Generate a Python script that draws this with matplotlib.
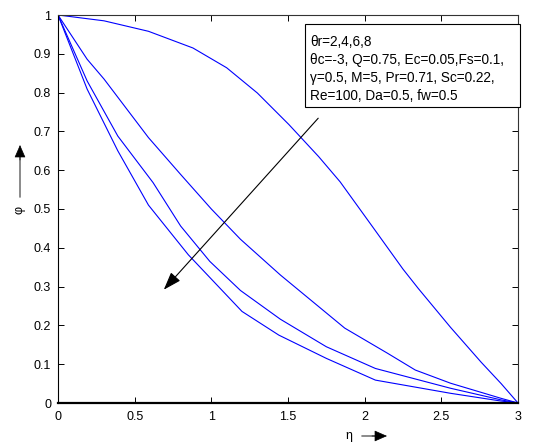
import matplotlib
matplotlib.use("Agg")
import matplotlib.pyplot as plt
from matplotlib.patches import Rectangle, FancyArrowPatch

plt.rcParams['font.family'] = ['Liberation Sans', 'DejaVu Sans']

# ---- data ----
eta_r2 = [0, 0.30, 0.59, 0.88, 1.10, 1.30, 1.505, 1.70, 1.84, 2.05, 2.25, 2.35, 2.56, 2.76, 2.89, 3.0]
phi_r2 = [1, 0.985, 0.958, 0.915, 0.864, 0.799, 0.718, 0.635, 0.570, 0.455, 0.345, 0.295, 0.195, 0.105, 0.050, 0.0]

eta_r4 = [0, 0.19, 0.30, 0.59, 0.80, 1.00, 1.19, 1.45, 1.87, 2.15, 2.33, 2.56, 2.89, 3.0]
phi_r4 = [1, 0.886, 0.835, 0.684, 0.589, 0.500, 0.422, 0.330, 0.193, 0.128, 0.085, 0.051, 0.012, 0.0]

eta_r6 = [0, 0.19, 0.39, 0.62, 0.80, 0.99, 1.19, 1.45, 1.75, 2.07, 2.56, 2.89, 3.0]
phi_r6 = [1, 0.830, 0.688, 0.568, 0.456, 0.365, 0.290, 0.216, 0.145, 0.089, 0.038, 0.008, 0.0]

eta_r8 = [0, 0.19, 0.39, 0.59, 0.85, 1.20, 1.44, 1.75, 2.07, 2.56, 2.89, 3.0]
phi_r8 = [1, 0.809, 0.650, 0.510, 0.382, 0.236, 0.175, 0.115, 0.059, 0.025, 0.005, 0.0]

x_ticks = [0, 0.5, 1, 1.5, 2, 2.5, 3]
x_tick_labels = ['0', '0.5', '1', '1.5', '2', '2.5', '3']
y_ticks = [0, 0.1, 0.2, 0.3, 0.4, 0.5, 0.6, 0.7, 0.8, 0.9, 1]
y_tick_labels = ['0', '0.1', '0.2', '0.3', '0.4', '0.5', '0.6', '0.7', '0.8', '0.9', '1']

legend_lines = [
    "θr=2,4,6,8",
    "θc=-3, Q=0.75, Ec=0.05,Fs=0.1,",
    "γ=0.5, M=5, Pr=0.71, Sc=0.22,",
    "Re=100, Da=0.5, fw=0.5",
]

W, H = 557, 447
fig = plt.figure(figsize=(W / 100, H / 100), dpi=100)
fig.patch.set_facecolor('white')

def fx(px):
    return px / W

def fy(py):
    return 1 - py / H

ax = fig.add_axes([fx(58), fy(403), fx(518) - fx(58), fy(15) - fy(403)])

for e, p in [(eta_r2, phi_r2), (eta_r4, phi_r4), (eta_r6, phi_r6), (eta_r8, phi_r8)]:
    ax.plot(e, p, color='#0000ff', lw=0.8)

ax.set_xlim(0, 3)
ax.set_ylim(0, 1)
ax.set_xticks(x_ticks)
ax.set_xticklabels(x_tick_labels)
ax.set_yticks(y_ticks)
ax.set_yticklabels(y_tick_labels)
ax.tick_params(direction='in', top=True, right=True, length=4, width=0.7,
               labelsize=9, colors='black')
ax.tick_params(axis='x', pad=6)
ax.tick_params(axis='y', pad=5)
for s in ['top', 'right', 'left']:
    ax.spines[s].set_linewidth(0.8)
ax.spines['bottom'].set_linewidth(1.6)
ax.spines['top'].set_color('#333333')
ax.spines['right'].set_color('#333333')

# main arrow across the curves
ax.annotate('', xy=(0.69, 0.292), xytext=(1.697, 0.734),
            arrowprops=dict(arrowstyle='-|>,head_length=1.1,head_width=0.38',
                            color='black', lw=0.8, shrinkA=0, shrinkB=0))

# parameter box
fig.patches.append(Rectangle((fx(305), fy(107)), fx(520) - fx(305), fy(24) - fy(107),
                             transform=fig.transFigure, facecolor='white',
                             edgecolor='black', lw=0.8, zorder=5))
for i, t in enumerate(legend_lines):
    fig.text(fx(310), fy(41.5 + 18.3 * i), t, fontsize=9.8, va='center', ha='left',
             zorder=6)

# y label with arrow
fig.text(fx(20), fy(210), 'φ', rotation=90, fontsize=9, ha='center', va='center')
fig.patches.append(FancyArrowPatch(
    (fx(20), fy(197)), (fx(20), fy(156)), transform=fig.transFigure,
    arrowstyle='-', color='#777777', lw=1.2, shrinkA=0, shrinkB=0))
fig.patches.append(FancyArrowPatch(
    (fx(20), fy(160)), (fx(20), fy(145)), transform=fig.transFigure,
    arrowstyle='-|>,head_length=8,head_width=3.5', color='black', lw=0.5,
    shrinkA=0, shrinkB=0))

# x label with arrow
fig.text(fx(349), fy(436), 'η', fontsize=9, ha='center', va='center')
fig.patches.append(FancyArrowPatch(
    (fx(362), fy(436)), (fx(376), fy(436)), transform=fig.transFigure,
    arrowstyle='-', color='#777777', lw=1.2, shrinkA=0, shrinkB=0))
fig.patches.append(FancyArrowPatch(
    (fx(372), fy(436)), (fx(387), fy(436)), transform=fig.transFigure,
    arrowstyle='-|>,head_length=8,head_width=3.5', color='black', lw=0.5,
    shrinkA=0, shrinkB=0))

fig.savefig('out.png', dpi=100, facecolor='white')
